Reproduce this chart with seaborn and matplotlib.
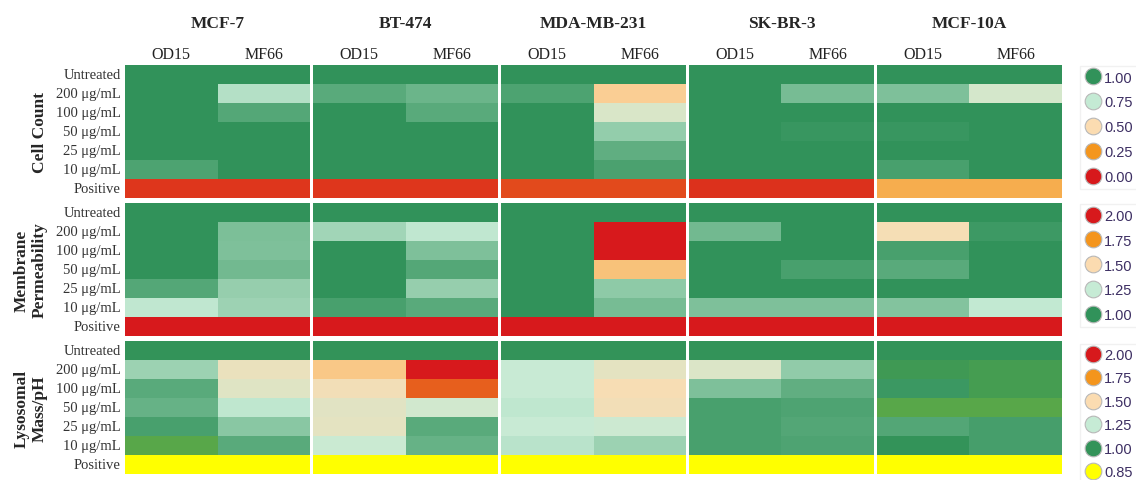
import numpy as np
import matplotlib
matplotlib.use("Agg")
import matplotlib.pyplot as plt
import seaborn as sns
from matplotlib.colors import LinearSegmentedColormap, Normalize
from matplotlib.lines import Line2D

cell_lines = ["MCF-7", "BT-474", "MDA-MB-231", "SK-BR-3", "MCF-10A"]
treatments = ["OD15", "MF66"]
doses = ["Untreated", "200 μg/mL", "100 μg/mL", "50 μg/mL", "25 μg/mL", "10 μg/mL", "Positive"]
metrics = ["Cell Count", "Membrane\nPermeability", "Lysosomal\nMass/pH"]

# columns: MCF-7 OD15, MCF-7 MF66, BT-474 OD15, BT-474 MF66, MDA OD15, MDA MF66, SK OD15, SK MF66, 10A OD15, 10A MF66
cell_count = [
    [1.00, 1.00, 1.00, 1.00, 1.00, 1.00, 1.00, 1.00, 1.00, 1.00],
    [1.00, 0.78, 0.93, 0.90, 0.95, 0.45, 1.00, 0.88, 0.87, 0.68],
    [1.00, 0.94, 1.00, 0.93, 1.00, 0.66, 1.00, 1.00, 1.00, 1.00],
    [1.00, 1.00, 1.00, 1.00, 1.00, 0.835, 1.00, 0.985, 0.985, 1.00],
    [1.00, 1.00, 1.00, 1.00, 1.00, 0.92, 1.00, 1.00, 1.00, 1.00],
    [0.95, 1.00, 1.00, 1.00, 1.00, 0.955, 1.00, 1.00, 0.96, 1.00],
    [0.06, 0.06, 0.06, 0.06, 0.10, 0.10, 0.05, 0.05, 0.335, 0.335],
]
membrane = [
    [1.00, 1.00, 1.00, 1.00, 1.00, 1.00, 1.00, 1.00, 1.00, 1.00],
    [1.00, 1.125, 1.19, 1.24, 1.00, 2.00, 1.11, 1.00, 1.47, 1.02],
    [1.00, 1.13, 1.00, 1.13, 1.00, 2.00, 1.00, 1.00, 1.04, 1.00],
    [1.00, 1.11, 1.00, 1.06, 1.00, 1.59, 1.00, 1.04, 1.07, 1.00],
    [1.06, 1.17, 1.00, 1.17, 1.00, 1.16, 1.00, 1.00, 1.00, 1.00],
    [1.24, 1.18, 1.04, 1.07, 1.00, 1.12, 1.13, 1.13, 1.14, 1.245],
    [2.00, 2.00, 2.00, 2.00, 2.00, 2.00, 2.00, 2.00, 2.00, 2.00],
]
lysosomal = [
    [1.00, 1.00, 1.00, 1.00, 1.00, 1.00, 1.00, 1.00, 1.00, 1.00],
    [1.18, 1.42, 1.57, 2.00, 1.26, 1.39, 1.35, 1.16, 0.99, 0.985],
    [1.07, 1.37, 1.46, 1.86, 1.26, 1.48, 1.13, 1.08, 1.02, 0.988],
    [1.09, 1.24, 1.38, 1.30, 1.24, 1.46, 1.04, 1.05, 0.974, 0.974],
    [1.04, 1.15, 1.39, 1.07, 1.26, 1.28, 1.04, 1.06, 1.06, 1.035],
    [0.975, 1.07, 1.27, 1.09, 1.23, 1.18, 1.04, 1.05, 1.00, 1.035],
    [0.85, 0.85, 0.85, 0.85, 0.85, 0.85, 0.85, 0.85, 0.85, 0.85],
]

legend_cc = [1.00, 0.75, 0.50, 0.25, 0.00]
legend_mp = [2.00, 1.75, 1.50, 1.25, 1.00]
legend_ly = [2.00, 1.75, 1.50, 1.25, 1.00, 0.85]

RED, ORANGE, PEACH, MINT, GREEN, YELLOW = "#d7191c", "#f4961d", "#fbdcb1", "#c6ebd5", "#31925a", "#ffff00"


def make_cmap(nodes, colors):
    lo, hi = min(nodes), max(nodes)
    pos = [(v - lo) / (hi - lo) for v in nodes]
    pairs = sorted(zip(pos, colors))
    return LinearSegmentedColormap.from_list("c", pairs), lo, hi


scales = [
    make_cmap([0, 0.25, 0.5, 0.75, 1.0], [RED, ORANGE, PEACH, MINT, GREEN]),
    make_cmap([1.0, 1.25, 1.5, 1.75, 2.0], [GREEN, MINT, PEACH, ORANGE, RED]),
    make_cmap([0.85, 1.0, 1.25, 1.5, 1.75, 2.0], [YELLOW, GREEN, MINT, PEACH, ORANGE, RED]),
]
datasets = [cell_count, membrane, lysosomal]
legends = [legend_cc, legend_mp, legend_ly]
legend_y = [0.53, 0.53, 0.455]
legend_gap = [0.75, 0.75, 0.65]

sns.set_theme(style="white")
plt.rcParams["font.family"] = ["Liberation Serif", "DejaVu Serif"]

fig, axes = plt.subplots(3, 5, figsize=(11.36, 4.81), dpi=100)
fig.subplots_adjust(left=125 / 1136, right=1062 / 1136, top=1 - 66 / 481,
                    bottom=1 - 475 / 481, wspace=0.016, hspace=0.04)

for i, (metric, data) in enumerate(zip(metrics, datasets)):
    cmap, vmin, vmax = scales[i]
    arr = np.array(data)
    for j, line in enumerate(cell_lines):
        ax = axes[i, j]
        sub = arr[:, 2 * j:2 * j + 2]
        sns.heatmap(sub, ax=ax, cmap=cmap, vmin=vmin, vmax=vmax, cbar=False,
                    xticklabels=treatments if i == 0 else False,
                    yticklabels=doses if j == 0 else False)
        if i == 0:
            ax.xaxis.tick_top()
            ax.tick_params(axis="x", length=0, pad=2.5, labelsize=11.5, labelcolor="#222222")
            ax.set_title(line, fontweight="bold", fontsize=12.5, pad=27)
        if j == 0:
            ax.tick_params(axis="y", length=0, pad=3, labelsize=10.5, labelcolor="#333333")
            plt.setp(ax.get_yticklabels(), rotation=0)
            ax.set_ylabel(metric, fontweight="bold", fontsize=12.5, labelpad=6)

    # legend of colour stops on the right
    norm = Normalize(vmin, vmax)
    handles = [Line2D([], [], marker="o", ls="", markersize=12,
                      markerfacecolor=cmap(norm(v)), markeredgecolor="#b8b8b8",
                      markeredgewidth=0.8) for v in legends[i]]
    labels = [f"{v:.2f}" for v in legends[i]]
    axes[i, 4].legend(handles, labels, loc="center left",
                      bbox_to_anchor=(1.095, legend_y[i]),
                      frameon=True, edgecolor="#eeeeee", fancybox=False,
                      prop={"family": "Liberation Sans", "size": 10.5},
                      labelcolor="#3d2f63", handletextpad=0.2, handlelength=1.2,
                      borderpad=0.3, labelspacing=legend_gap[i],
                      borderaxespad=0)

plt.savefig("out.png", dpi=100)
plt.close()
